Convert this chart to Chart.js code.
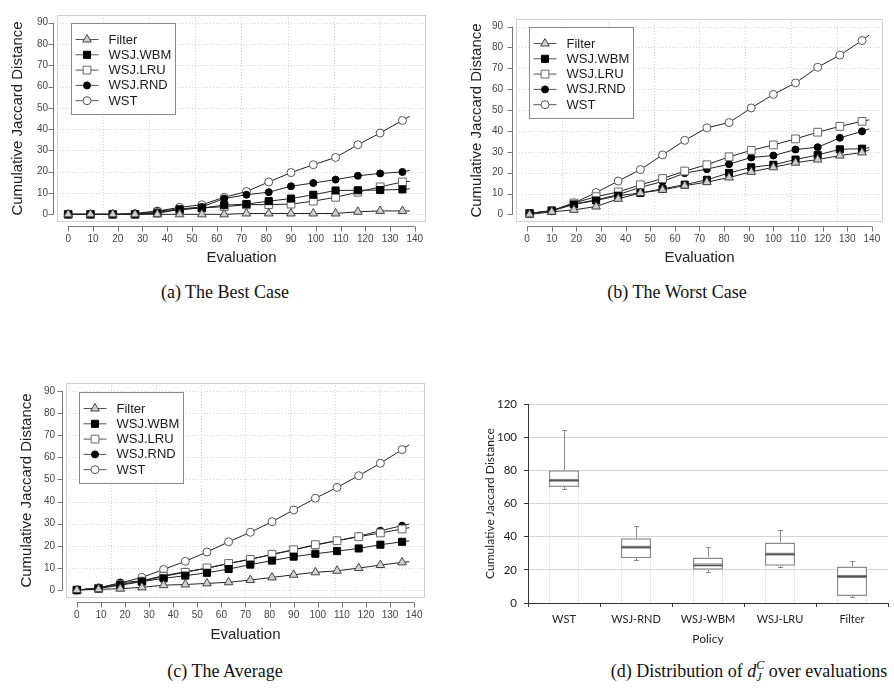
<!DOCTYPE html>
<html>
<head>
<meta charset="utf-8">
<script src="https://cdn.jsdelivr.net/npm/chart.js@4.4.1/dist/chart.umd.min.js"></script>
<style>
  body { margin: 0; background: #fff; width: 894px; height: 690px; position: relative; overflow: hidden; }
  canvas { position: absolute; }
  .cap { position: absolute; font-family: "Liberation Serif", serif; font-size: 18px; line-height: 22px; color: #111; white-space: nowrap; transform: translateX(-50%); }
  .ss { display: inline-block; vertical-align: -0.3em; font-size: 0.68em; line-height: 0.95; font-style: italic; }
  .ss span { display: block; }
</style>
</head>
<body>
<canvas id="chartA" width="450" height="267" style="left:0;top:0"></canvas>
<canvas id="chartB" width="444" height="267" style="left:450px;top:0"></canvas>
<canvas id="chartC" width="450" height="304" style="left:0;top:340px"></canvas>
<canvas id="chartD" width="444" height="266" style="left:450px;top:380px"></canvas>

<div class="cap" style="left:225px;top:281px">(a) The Best Case</div>
<div class="cap" style="left:677px;top:281px">(b) The Worst Case</div>
<div class="cap" style="left:225px;top:660px">(c) The Average</div>
<div class="cap" style="left:749px;top:660px">(d) Distribution of <i>d</i><span class="ss"><span>C</span><span>J</span></span> over evaluations</div>

<script>
// evaluation index of each plotted marker (last one is the unmarked line end)
const EVAL_AC = [0, 9, 18, 27, 36, 45, 54, 63, 72, 81, 90, 99, 108, 117, 126, 135, 138];
const EVAL_B = [1, 10, 19, 28, 37, 46, 55, 64, 73, 82, 91, 100, 109, 118, 127, 136, 139];
const X_TICKS = [0, 10, 20, 30, 40, 50, 60, 70, 80, 90, 100, 110, 120, 130, 140];
const Y_TICKS = [0, 10, 20, 30, 40, 50, 60, 70, 80, 90];
const GRID_X = [14.1, 32.7, 51.4, 70, 88.6, 107.3, 125.9];

// (a) best case
const FILTER_A = [0, 0, 0, 0, 0, 0, 0, 0, 0.4, 0.4, 0.4, 0.4, 0.4, 1.2, 1.6, 1.6, 1.6];
const WBM_A = [0, 0, 0, 0, 0.5, 2.3, 3, 4.3, 4.8, 6.2, 7.4, 9.2, 11.2, 11.3, 11.4, 11.7, 12];
const LRU_A = [0, 0, 0, 0, 1, 2.2, 3, 3.6, 4.5, 4.6, 4.8, 6.2, 8, 10.4, 12.9, 15.2, 15.5];
const RND_A = [0, 0, 0, 0.5, 1.5, 2.5, 3.5, 7.4, 9.2, 10.4, 13.2, 14.7, 16.3, 18.1, 19.2, 19.9, 20.7];
const WST_A = [0, 0, 0, 0, 1.5, 3.3, 4.5, 8, 10.7, 15.2, 19.6, 23.3, 26.7, 32.7, 38.2, 44.1, 46];

// (b) worst case
const FILTER_B = [0, 1.3, 2.2, 3.8, 7.5, 10.3, 11.8, 13.8, 15.5, 17.7, 20.4, 22.6, 24.8, 26.3, 28.2, 29.7, 31];
const WBM_B = [0.5, 1.8, 4.8, 6.7, 9, 10.3, 12.3, 14.3, 16.6, 19.9, 22.6, 23.8, 26.3, 28.5, 31.2, 31.5, 32];
const LRU_B = [0.5, 1.8, 5.5, 8.5, 10.8, 14.2, 17.2, 20.8, 23.8, 27.6, 30.7, 33.3, 36.2, 39.4, 42.2, 44.6, 45.3];
const RND_B = [0.5, 1.8, 5, 7, 9.5, 13, 15.8, 19.8, 21.7, 24.1, 27.3, 28.2, 31.1, 32.2, 36.7, 39.8, 41];
const WST_B = [0.5, 1.8, 5.5, 10.5, 16, 21.5, 28.5, 35.5, 41.5, 44, 51, 57.5, 63, 70.5, 76.3, 83.3, 86];

// (c) average
const FILTER_C = [0, 0.3, 0.6, 1.2, 2.2, 2.5, 3, 3.5, 4.5, 5.7, 6.9, 8, 8.7, 9.9, 11.3, 12.5, 12.8];
const WBM_C = [0, 0.7, 2.2, 3.8, 5.3, 6.5, 7.8, 9.5, 11.5, 13.3, 15.1, 16.4, 17.6, 18.8, 20.5, 21.8, 22.2];
const LRU_C = [0, 0.8, 2.5, 4, 6.2, 8, 10, 12, 13.8, 16.2, 18.2, 20.5, 22.3, 24.1, 25.8, 27.6, 28.2];
const RND_C = [0, 0.8, 3.3, 4.2, 6.5, 8.3, 9.8, 12, 14, 16, 18.2, 20.3, 22.3, 24.3, 26.8, 29.1, 29.8];
const WST_C = [0, 1, 3.2, 5.7, 9.3, 13, 17.2, 21.8, 26.1, 30.9, 36.2, 41.5, 46.4, 51.7, 57.3, 63.5, 65.7];

// (d) distribution per policy
const POLICIES = ['WST', 'WSJ-RND', 'WSJ-WBM', 'WSJ-LRU', 'Filter'];
const BOX_MIN = [69, 26, 18.7, 21.7, 3.6];
const BOX_Q1 = [70, 27, 20, 22.5, 4.2];
const BOX_MED = [74, 33.7, 23, 29.5, 16];
const BOX_Q3 = [80, 39, 27.5, 36.5, 22];
const BOX_MAX = [104.3, 46.5, 34, 44, 25.3];

const MARKERS = {
  'Filter':  { style: 'triangle', r: 5,   fill: '#cfcfcf', stroke: '#444' },
  'WSJ.WBM': { style: 'rect',     r: 5,   fill: '#000',    stroke: '#000' },
  'WSJ.LRU': { style: 'rect',     r: 5.5, fill: '#fff',    stroke: '#666' },
  'WSJ.RND': { style: 'circle',   r: 3.5, fill: '#000',    stroke: '#000' },
  'WST':     { style: 'circle',   r: 4,   fill: '#fff',    stroke: '#555' }
};

const SANS = '"Liberation Sans", Arial, sans-serif';

// R-like box, dotted grid, offset axes and a boxed legend
const rLook = {
  id: 'rLook',
  beforeDatasetsDraw(chart) {
    const { ctx, chartArea: a, scales: { x, y } } = chart;
    ctx.save();
    ctx.strokeStyle = '#d6d6d6';
    ctx.lineWidth = 1;
    ctx.setLineDash([1, 2]);
    ctx.beginPath();
    GRID_X.forEach(v => {
      const px = Math.round(x.getPixelForValue(v)) + 0.5;
      ctx.moveTo(px, a.top); ctx.lineTo(px, a.bottom);
    });
    Y_TICKS.forEach(v => {
      const py = Math.round(y.getPixelForValue(v)) + 0.5;
      ctx.moveTo(a.left, py); ctx.lineTo(a.right, py);
    });
    ctx.stroke();
    ctx.setLineDash([]);
    ctx.strokeStyle = '#cfcfcf';
    ctx.strokeRect(Math.round(a.left) + 0.5, Math.round(a.top) + 0.5, Math.round(a.width) - 1, Math.round(a.height) - 1);

    // axes
    ctx.strokeStyle = '#777';
    ctx.beginPath();
    const ay = Math.round(a.bottom) + 4.5;
    ctx.moveTo(x.getPixelForValue(X_TICKS[0]), ay);
    ctx.lineTo(x.getPixelForValue(X_TICKS[X_TICKS.length - 1]), ay);
    X_TICKS.forEach(v => {
      const px = Math.round(x.getPixelForValue(v)) + 0.5;
      ctx.moveTo(px, ay); ctx.lineTo(px, ay + 5);
    });
    const ax = Math.round(a.left) - 3.5;
    ctx.moveTo(ax, y.getPixelForValue(Y_TICKS[0]));
    ctx.lineTo(ax, y.getPixelForValue(Y_TICKS[Y_TICKS.length - 1]));
    Y_TICKS.forEach(v => {
      const py = Math.round(y.getPixelForValue(v)) + 0.5;
      ctx.moveTo(ax, py); ctx.lineTo(ax - 5, py);
    });
    ctx.stroke();
    ctx.restore();
  },
  afterDraw(chart) {
    const { ctx, chartArea: a } = chart;
    const o = chart.options.plugins.rLook;
    const bx = Math.round(a.left + o.dx) + 0.5, by = Math.round(a.top + o.dy) + 0.5;
    ctx.save();
    ctx.fillStyle = '#fff';
    ctx.fillRect(bx, by, o.w, o.h);
    ctx.strokeStyle = '#888';
    ctx.lineWidth = 1;
    ctx.strokeRect(bx, by, o.w, o.h);
    ctx.font = '13px ' + SANS;
    ctx.textBaseline = 'middle';
    chart.data.datasets.forEach((ds, i) => {
      const m = MARKERS[ds.label];
      const ly = by + 16 + i * 15.3;
      ctx.strokeStyle = '#555';
      ctx.beginPath();
      ctx.moveTo(bx + 4, ly); ctx.lineTo(bx + 27, ly);
      ctx.stroke();
      ctx.fillStyle = m.fill;
      ctx.strokeStyle = m.stroke;
      Chart.helpers.drawPoint(ctx, { pointStyle: m.style, radius: m.r, borderWidth: 1, rotation: 0 }, bx + 15.5, ly);
      ctx.fillStyle = '#1a1a1a';
      ctx.fillText(ds.label, bx + 37, ly + 0.5);
    });
    ctx.restore();
  }
};

function lineChart(id, evals, series, cfg) {
  const datasets = series.map(([name, vals]) => {
    const m = MARKERS[name];
    return {
      label: name,
      data: vals,
      borderColor: '#222',
      borderWidth: 1,
      pointStyle: m.style,
      pointRadius: c => (c.dataIndex === vals.length - 1 ? 0 : m.r),
      pointBackgroundColor: m.fill,
      pointBorderColor: m.stroke,
      pointBorderWidth: 1,
      tension: 0
    };
  });
  return new Chart(document.getElementById(id), {
    type: 'line',
    data: { labels: evals, datasets },
    options: {
      responsive: false,
      animation: false,
      layout: { padding: { left: 0, top: cfg.top, right: cfg.right, bottom: 0 } },
      plugins: {
        legend: { display: false },
        tooltip: { enabled: false },
        rLook: { dx: cfg.legX, dy: cfg.legY, w: 104, h: 91 }
      },
      scales: {
        x: {
          type: 'linear', min: -4.52, max: 144.52,
          afterBuildTicks: s => { s.ticks = X_TICKS.map(v => ({ value: v })); },
          afterFit: s => { s.height = cfg.xH; },
          grid: { display: false, drawTicks: false },
          border: { display: false },
          ticks: { font: { family: SANS, size: 10 }, color: '#444', padding: 11, maxRotation: 0, autoSkip: false },
          title: { display: true, text: 'Evaluation', font: { family: SANS, size: 15 }, color: '#222', padding: { top: 0, bottom: 0 } }
        },
        y: {
          min: -3.6, max: 93.6,
          afterBuildTicks: s => { s.ticks = Y_TICKS.map(v => ({ value: v })); },
          afterFit: s => { s.width = cfg.yW; },
          grid: { display: false, drawTicks: false },
          border: { display: false },
          ticks: { font: { family: SANS, size: 10 }, color: '#444', padding: cfg.yPad },
          title: { display: true, text: 'Cumulative Jaccard Distance', font: { family: SANS, size: 15 }, color: '#222', padding: { top: cfg.titleX - 9, bottom: 0 } }
        }
      }
    },
    plugins: [rLook]
  });
}

lineChart('chartA', EVAL_AC,
  [['Filter', FILTER_A], ['WSJ.WBM', WBM_A], ['WSJ.LRU', LRU_A], ['WSJ.RND', RND_A], ['WST', WST_A]],
  { top: 3, right: 24, yW: 57, xH: 45, yPad: 9, titleX: 18, legX: 14, legY: 8 });

lineChart('chartB', EVAL_B,
  [['Filter', FILTER_B], ['WSJ.WBM', WBM_B], ['WSJ.LRU', LRU_B], ['WSJ.RND', RND_B], ['WST', WST_B]],
  { top: 3, right: 11, yW: 66, xH: 45, yPad: 13, titleX: 27, legX: 13, legY: 8 });

lineChart('chartC', EVAL_AC,
  [['Filter', FILTER_C], ['WSJ.WBM', WBM_C], ['WSJ.LRU', LRU_C], ['WSJ.RND', RND_C], ['WST', WST_C]],
  { top: 43, right: 25, yW: 66, xH: 46, yPad: 11, titleX: 27, legX: 13, legY: 9 });

// (d) box plot: floating bars for the boxes, whiskers and medians drawn on the scales
const whiskers = {
  id: 'whiskers',
  afterDatasetsDraw(chart) {
    const { ctx, scales: { y } } = chart;
    const bars = chart.getDatasetMeta(2).data;
    ctx.save();
    ctx.lineWidth = 1;
    bars.forEach((bar, i) => {
      const x = Math.round(bar.x) + 0.5;
      const yMax = Math.round(y.getPixelForValue(BOX_MAX[i])) + 0.5;
      const yMin = Math.round(y.getPixelForValue(BOX_MIN[i])) + 0.5;
      ctx.strokeStyle = '#8c8c8c';
      ctx.beginPath();
      ctx.moveTo(x, y.getPixelForValue(BOX_Q3[i])); ctx.lineTo(x, yMax);
      ctx.moveTo(x - 2.5, yMax); ctx.lineTo(x + 2.5, yMax);
      ctx.moveTo(x, y.getPixelForValue(BOX_Q1[i])); ctx.lineTo(x, yMin);
      ctx.moveTo(x - 2.5, yMin); ctx.lineTo(x + 2.5, yMin);
      ctx.stroke();
      const yMed = Math.round(y.getPixelForValue(BOX_MED[i])) + 0.5;
      ctx.strokeStyle = '#555';
      ctx.lineWidth = 1.5;
      ctx.beginPath();
      ctx.moveTo(bar.x - bar.width / 2, yMed); ctx.lineTo(bar.x + bar.width / 2, yMed);
      ctx.stroke();
      ctx.lineWidth = 1;
    });
    ctx.restore();
  }
};

const XL = '"Lato", "Open Sans", sans-serif';
new Chart(document.getElementById('chartD'), {
  type: 'bar',
  data: {
    labels: POLICIES,
    datasets: [
      { data: POLICIES.map((p, i) => [0, BOX_Q1[i]]), backgroundColor: 'rgba(0,0,0,0)', borderColor: '#e4e4e4',
        borderWidth: { left: 1, right: 1, top: 0, bottom: 0 }, borderSkipped: false },
      { data: POLICIES.map((p, i) => [BOX_Q1[i], BOX_MED[i]]), backgroundColor: '#fff', borderColor: '#8c8c8c',
        borderWidth: 1.5, borderSkipped: false },
      { data: POLICIES.map((p, i) => [BOX_MED[i], BOX_Q3[i]]), backgroundColor: '#fff', borderColor: '#8c8c8c',
        borderWidth: 1.5, borderSkipped: false }
    ]
  },
  options: {
    responsive: false,
    animation: false,
    layout: { padding: { left: 0, top: 24, right: 6, bottom: 0 } },
    datasets: { bar: { grouped: false, categoryPercentage: 1, barPercentage: 0.42 } },
    plugins: { legend: { display: false }, tooltip: { enabled: false } },
    scales: {
      x: {
        afterFit: s => { s.height = 43; },
        grid: { drawOnChartArea: false, drawTicks: true, tickLength: 4, color: '#333' },
        border: { color: '#333' },
        ticks: { font: { family: XL, size: 11 }, color: '#222', padding: 6 },
        title: { display: true, text: 'Policy', font: { family: XL, size: 12 }, color: '#222', padding: { top: 0, bottom: 0 } }
      },
      y: {
        min: 0, max: 120,
        afterFit: s => { s.width = 78; },
        grid: { color: '#d4d4d4', tickColor: '#333', tickLength: 4 },
        border: { color: '#333' },
        ticks: { stepSize: 20, font: { family: XL, size: 11.5 }, color: '#222', padding: 7 },
        title: { display: true, text: 'Cumulative Jaccard Distance', font: { family: XL, size: 12 }, color: '#222', padding: { top: 33, bottom: 0 } }
      }
    }
  },
  plugins: [whiskers]
});
</script>
</body>
</html>
